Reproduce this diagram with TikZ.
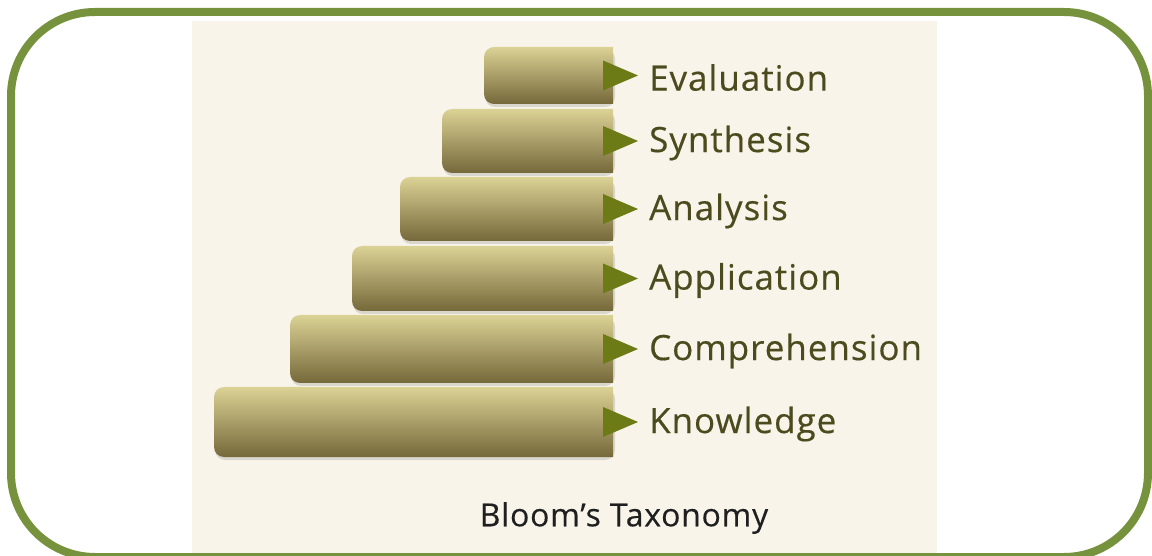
\documentclass[tikz,border=0pt]{standalone}
\usepackage{fontspec}
\setmainfont{Open Sans}
\newfontfamily\lblfont[LetterSpace=3,FakeBold=0.4]{Open Sans}
\newfontfamily\ttlfont[LetterSpace=2.5,FakeBold=0.3]{Open Sans}
\usetikzlibrary{calc}
\definecolor{frame}{HTML}{76923C}
\definecolor{cream}{HTML}{F8F4EA}
\definecolor{arrowc}{HTML}{6C7B16}
\definecolor{labelc}{HTML}{4B4B1E}
\definecolor{bartop}{HTML}{DBD295}
\definecolor{barmid}{HTML}{B3A76C}
\definecolor{barbot}{HTML}{75683A}
\tikzset{
  lbl/.style={anchor=west, inner sep=0pt, text=labelc, font=\lblfont\fontsize{35}{39}\selectfont},
  pointer/.style={fill=arrowc},
  barshade/.style={top color=bartop, middle color=barmid, bottom color=barbot},
}
\newcommand{\mybar}[5]{% name, xl, yt, yb, label
  \fill[black,opacity=0.12,rounded corners=10bp] (#2+1,#3+2) rectangle (613+2,#4+3);
  \begin{scope}
    \clip (#2,#3) rectangle (613,#4);
    \shade[barshade,rounded corners=10bp] (#2,#3) rectangle (640,#4);
  \end{scope}
  \coordinate (#1c) at (613,{(#3+#4)/2});
  \fill[pointer] ($(#1c)+(-10,-15)$) -- ($(#1c)+(25,0)$) -- ($(#1c)+(-10,15)$) -- cycle;
  \node[lbl] (#1) at ($(#1c)+(36,2)$) {#5};
}
\begin{document}
\begin{tikzpicture}[x=1bp,y=-1bp]
\useasboundingbox (0,0) rectangle (1152,556);
\fill[white] (0,0) rectangle (1152,556);
\fill[cream] (192,21) rectangle (937,560);
\mybar{eva}{484}{47}{104}{Evaluation}
\mybar{syn}{442}{109}{173}{Synthesis}
\mybar{ana}{400}{177}{241}{Analysis}
\mybar{app}{352}{246}{311}{Application}
\mybar{com}{290}{315}{383}{Comprehension}
\mybar{kno}{214}{387}{457}{Knowledge}
\node[inner sep=0pt, text=black!88, font=\ttlfont\fontsize{32}{36}\selectfont] (title) at (624,518) {Bloom’s Taxonomy};
\draw[frame, line width=8bp, rounded corners=84bp] (11,12) rectangle (1148,557);
\end{tikzpicture}
\end{document}
